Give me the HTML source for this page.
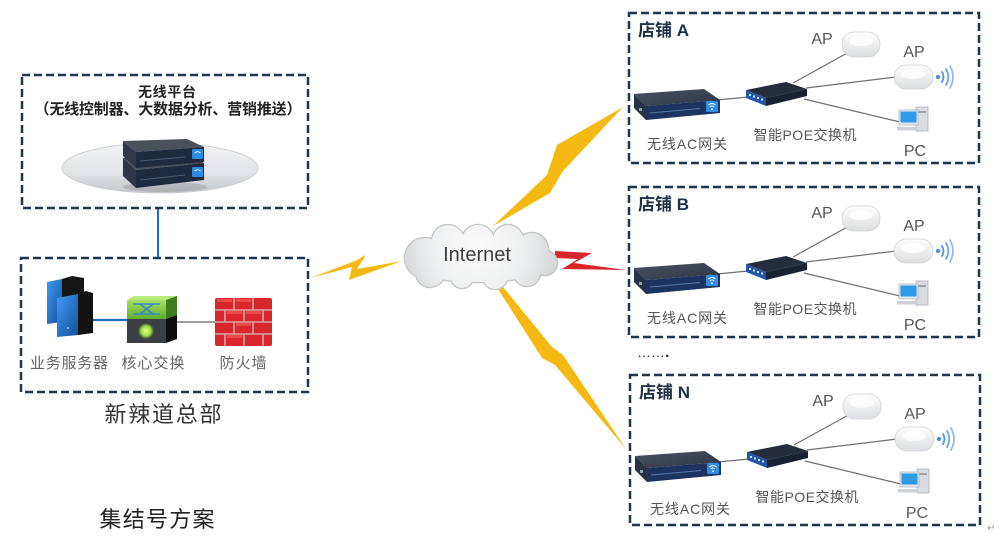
<!DOCTYPE html>
<html><head><meta charset="utf-8">
<style>
html,body{margin:0;padding:0;background:#fff;}
svg{display:block;}
text{font-family:"Liberation Sans","Noto Sans CJK SC",sans-serif;}
</style></head><body>
<svg width="1004" height="542" viewBox="0 0 1004 542" xmlns="http://www.w3.org/2000/svg">
<defs>
  <radialGradient id="cloudG" cx="478" cy="248" r="85" gradientUnits="userSpaceOnUse">
    <stop offset="0" stop-color="#fbfbfb"/>
    <stop offset="0.55" stop-color="#eeeff0"/>
    <stop offset="1" stop-color="#cfd1d4"/>
  </radialGradient>
  <linearGradient id="plat" x1="0" y1="0" x2="0" y2="1">
    <stop offset="0" stop-color="#f3f4f6"/>
    <stop offset="0.6" stop-color="#e2e4e7"/>
    <stop offset="1" stop-color="#c4c7cb"/>
  </linearGradient>
  <linearGradient id="apG" x1="0" y1="0" x2="0" y2="1">
    <stop offset="0" stop-color="#ffffff"/>
    <stop offset="1" stop-color="#dcdde0"/>
  </linearGradient>
  <linearGradient id="srvBlue" x1="0" y1="0" x2="1" y2="1">
    <stop offset="0" stop-color="#3e9bf0"/>
    <stop offset="1" stop-color="#144f9e"/>
  </linearGradient>
  <linearGradient id="greenG" x1="0" y1="0" x2="0" y2="1">
    <stop offset="0" stop-color="#a6e064"/>
    <stop offset="1" stop-color="#5fae2e"/>
  </linearGradient>
  <radialGradient id="glow" cx="0.5" cy="0.5" r="0.5">
    <stop offset="0" stop-color="#e8ff8a"/>
    <stop offset="0.6" stop-color="#9be03c"/>
    <stop offset="1" stop-color="#3b3f44"/>
  </radialGradient>
  <linearGradient id="acTop" x1="0" y1="0" x2="1" y2="1">
    <stop offset="0" stop-color="#4a5263"/>
    <stop offset="1" stop-color="#2c3446"/>
  </linearGradient>

  <g id="store">
    <rect x="629" y="0" width="350" height="150" fill="none" stroke="#1f364f" stroke-width="2.5" stroke-dasharray="8 4"/>
    <g stroke="#6f6f6f" stroke-width="1.2" fill="none">
      <line x1="717" y1="87" x2="748" y2="84"/>
      <line x1="793" y1="70" x2="851" y2="38"/>
      <line x1="806" y1="75" x2="896" y2="64"/>
      <line x1="804" y1="86" x2="900" y2="109"/>
    </g>
    <polygon points="634,81 704,76 720,87 646,93" fill="url(#acTop)"/>
    <polygon points="634,81 646,93 646,107 634,95" fill="#283245"/>
    <polygon points="646,93 720,87 720,100 646,107" fill="#1e3460"/>
    <line x1="650" y1="100" x2="700" y2="95.5" stroke="#5678a8" stroke-width="1"/>
    <rect x="639" y="95" width="3" height="3" fill="#8aa"/>
    <rect x="706" y="88" width="12" height="11" rx="1.5" fill="#2f8de4"/>
    <path d="M708.5,92 q3.5,-3 7,0 M709.8,94 q2.2,-2 4.4,0" stroke="#fff" stroke-width="1" fill="none"/>
    <circle cx="712" cy="96.3" r="0.9" fill="#fff"/>
    <polygon points="746,77 786,69 807,76 766,85" fill="#262d3a"/>
    <polygon points="746,77 766,85 766,93 746,85" fill="#2456a8"/>
    <polygon points="766,85 807,76 807,83 766,93" fill="#1a2231"/>
    <g fill="#cfe0f5">
      <rect x="749" y="81" width="2" height="2"/>
      <rect x="753" y="82.5" width="2" height="2"/>
      <rect x="757" y="84" width="2" height="2"/>
      <rect x="761" y="85.5" width="2" height="2"/>
    </g>
    <rect x="842" y="19" width="38" height="25" rx="12" fill="url(#apG)" stroke="#d2d3d6" stroke-width="0.8"/>
    <ellipse cx="861" cy="28" rx="12" ry="5" fill="#fff" opacity="0.8"/>
    <rect x="894" y="52" width="39" height="24" rx="12" fill="url(#apG)" stroke="#d2d3d6" stroke-width="0.8"/>
    <ellipse cx="913" cy="61" rx="12" ry="5" fill="#fff" opacity="0.8"/>
    <circle cx="938" cy="64" r="2.2" fill="#4a8fdc"/>
    <g fill="none" stroke-linecap="round">
      <path d="M942,59 q3,5 0,10" stroke="#4f95de" stroke-width="1.8"/>
      <path d="M946,56 q4.5,8 0,16" stroke="#6aa6e4" stroke-width="1.8"/>
      <path d="M950,53 q6,11 0,22" stroke="#8ebbea" stroke-width="1.8"/>
    </g>
    <rect x="916" y="94" width="12" height="24" fill="#d9dde2" stroke="#aeb3ba" stroke-width="0.8"/>
    <rect x="918" y="98" width="8" height="2" fill="#9aa3ad"/>
    <rect x="899" y="97" width="19" height="15" fill="#e4e7ea" stroke="#b5b9bf" stroke-width="0.8"/>
    <rect x="900.5" y="98.5" width="16" height="11" fill="#2f9be8"/>
    <rect x="897" y="114" width="20" height="3.5" fill="#cdd1d6"/>
  </g>
</defs>

<rect width="1004" height="542" fill="#ffffff"/>

<!-- Top-left platform box -->
<rect x="22" y="75" width="286" height="133" fill="none" stroke="#1f364f" stroke-width="2.5" stroke-dasharray="8 4"/>
<text x="167" y="97" text-anchor="middle" font-size="14" font-weight="bold" fill="#222" textLength="58" lengthAdjust="spacing">无线平台</text>
<text x="168" y="114" text-anchor="middle" font-size="15" font-weight="bold" fill="#222" textLength="267" lengthAdjust="spacing">（无线控制器、大数据分析、营销推送）</text>
<ellipse cx="160" cy="168" rx="98" ry="25" fill="url(#plat)" stroke="#c8cbcf" stroke-width="0.8"/>
<ellipse cx="165" cy="187" rx="42" ry="5" fill="#000" opacity="0.12"/>
<polygon points="123,158 190,155 204,163 136,170" fill="#4b515b"/>
<polygon points="123,158 136,170 136,188 123,176" fill="#2d3546"/>
<polygon points="136,170 204,163 204,180 136,188" fill="#1f2a3e"/>
<line x1="140" y1="180" x2="185" y2="175" stroke="#47597a" stroke-width="1"/>
<rect x="192" y="167" width="11" height="10" rx="1" fill="#2b8be6"/>
<path d="M194.5,171 q3,-2.5 6,0" stroke="#fff" stroke-width="1" fill="none"/>
<polygon points="123,141 187,139 204,147 136,152" fill="#4b515b"/>
<polygon points="123,141 136,152 136,168 123,156" fill="#30384a"/>
<polygon points="136,152 204,147 204,162 136,168" fill="#1f2a3e"/>
<line x1="140" y1="161" x2="185" y2="157" stroke="#47597a" stroke-width="1"/>
<rect x="192" y="149" width="11" height="10" rx="1" fill="#2b8be6"/>
<path d="M194.5,153 q3,-2.5 6,0" stroke="#fff" stroke-width="1" fill="none"/>

<line x1="158" y1="209" x2="158" y2="258" stroke="#1f6dc2" stroke-width="2"/>

<!-- HQ box -->
<rect x="21" y="258" width="287" height="134" fill="none" stroke="#1f364f" stroke-width="2.5" stroke-dasharray="8 4"/>
<line x1="92" y1="320" x2="128" y2="320" stroke="#1f6dc2" stroke-width="2.2"/>
<line x1="176" y1="322" x2="216" y2="322" stroke="#666" stroke-width="1.2"/>
<polygon points="62,279 72,276 84,278 84,318 62,320" fill="#151515"/>
<polygon points="47,282 62,279 62,322 47,324" fill="url(#srvBlue)"/>
<polygon points="78,294 86,291 93,293 93,333 78,335" fill="#121212"/>
<polygon points="57,298 78,294 78,335 57,337" fill="url(#srvBlue)"/>
<circle cx="68" cy="328" r="1" fill="#8fd0ff"/>
<polygon points="127,300 134,296 177,296 166,300" fill="#b8ea7c"/>
<rect x="127" y="300" width="39" height="19" fill="url(#greenG)"/>
<polygon points="166,300 177,296 177,315 166,319" fill="#3f7d1d"/>
<g stroke="#3b86c6" stroke-width="1.6" fill="none">
  <line x1="133" y1="304" x2="160" y2="304"/>
  <line x1="133" y1="314" x2="160" y2="314"/>
  <line x1="140" y1="304" x2="153" y2="314"/>
  <line x1="153" y1="304" x2="140" y2="314"/>
</g>
<rect x="127" y="319" width="39" height="24" fill="#3b3f44"/>
<polygon points="166,319 177,315 177,339 166,343" fill="#0e0e0e"/>
<circle cx="146" cy="331" r="8" fill="url(#glow)"/>
<rect x="215" y="298" width="57" height="48" rx="2" fill="#d8262a"/>
<g stroke="#d9a7a4" stroke-width="1.6">
  <line x1="215" y1="310" x2="272" y2="310"/>
  <line x1="215" y1="322" x2="272" y2="322"/>
  <line x1="215" y1="334" x2="272" y2="334"/>
  <line x1="234" y1="298" x2="234" y2="310"/>
  <line x1="253" y1="298" x2="253" y2="310"/>
  <line x1="225" y1="310" x2="225" y2="322"/>
  <line x1="244" y1="310" x2="244" y2="322"/>
  <line x1="263" y1="310" x2="263" y2="322"/>
  <line x1="234" y1="322" x2="234" y2="334"/>
  <line x1="253" y1="322" x2="253" y2="334"/>
  <line x1="225" y1="334" x2="225" y2="346"/>
  <line x1="244" y1="334" x2="244" y2="346"/>
  <line x1="263" y1="334" x2="263" y2="346"/>
</g>
<g fill="#f25a55" opacity="0.7">
  <rect x="217" y="299" width="15" height="3"/>
  <rect x="236" y="299" width="15" height="3"/>
  <rect x="227" y="311" width="15" height="3"/>
  <rect x="246" y="311" width="15" height="3"/>
  <rect x="236" y="323" width="15" height="3"/>
  <rect x="227" y="335" width="15" height="3"/>
</g>
<text x="69" y="368" text-anchor="middle" font-size="15" fill="#666" textLength="78" lengthAdjust="spacing">业务服务器</text>
<text x="153" y="368" text-anchor="middle" font-size="15" fill="#666" textLength="63" lengthAdjust="spacing">核心交换</text>
<text x="243" y="368" text-anchor="middle" font-size="15" fill="#666" textLength="47" lengthAdjust="spacing">防火墙</text>
<text x="163" y="422" text-anchor="middle" font-size="22" fill="#333" textLength="117" lengthAdjust="spacing">新辣道总部</text>

<text x="157" y="527" text-anchor="middle" font-size="22" fill="#222" textLength="115" lengthAdjust="spacing">集结号方案</text>

<!-- Lightning bolts -->
<polygon points="310,278 355,261 366,255 357,269 402,261 349,280 352,267" fill="#f5b914"/>
<polygon points="623,107 557,145 547,175 493,226 550,193 563,171" fill="#f5b914"/>
<polygon points="555,251 592,253 574,263 626,270 562,269 578,259 555,258" fill="#d8262b"/>
<polygon points="498,289 503,287 552,347 563,355 626,449 555,365 542,358" fill="#f5b914"/>

<!-- Cloud -->
<g fill="#c3c5c9" stroke="#c3c5c9" stroke-width="2.5">
  <ellipse cx="478" cy="262" rx="72" ry="20"/>
  <circle cx="425" cy="258" r="20"/>
  <circle cx="448" cy="241" r="16"/>
  <circle cx="478" cy="241" r="16"/>
  <circle cx="508" cy="240" r="15"/>
  <circle cx="532" cy="249" r="16"/>
  <circle cx="545" cy="263" r="12"/>
  <circle cx="430" cy="273" r="14"/>
  <circle cx="462" cy="277" r="11"/>
  <circle cx="495" cy="277" r="12"/>
  <circle cx="527" cy="273" r="13"/>
</g>
<g fill="url(#cloudG)">
  <ellipse cx="478" cy="262" rx="72" ry="20"/>
  <circle cx="425" cy="258" r="20"/>
  <circle cx="448" cy="241" r="16"/>
  <circle cx="478" cy="241" r="16"/>
  <circle cx="508" cy="240" r="15"/>
  <circle cx="532" cy="249" r="16"/>
  <circle cx="545" cy="263" r="12"/>
  <circle cx="430" cy="273" r="14"/>
  <circle cx="462" cy="277" r="11"/>
  <circle cx="495" cy="277" r="12"/>
  <circle cx="527" cy="273" r="13"/>
</g>
<text x="477" y="261" text-anchor="middle" font-size="20" fill="#3d3d3d">Internet</text>

<!-- Stores -->
<use href="#store" transform="translate(0,13)"/>
<use href="#store" transform="translate(0,187)"/>
<use href="#store" transform="translate(1,375)"/>

<text x="638" y="36" font-size="17" font-weight="bold" fill="#1d3149">店铺 A</text>
<text x="822" y="44" text-anchor="middle" font-size="16" fill="#555">AP</text>
<text x="914" y="57" text-anchor="middle" font-size="16" fill="#555">AP</text>
<text x="687" y="149" text-anchor="middle" font-size="14" fill="#555" textLength="80" lengthAdjust="spacing">无线AC网关</text>
<text x="805" y="140" text-anchor="middle" font-size="14" fill="#555" textLength="103" lengthAdjust="spacing">智能POE交换机</text>
<text x="915" y="156" text-anchor="middle" font-size="16" fill="#555">PC</text>

<text x="638" y="210" font-size="17" font-weight="bold" fill="#1d3149">店铺 B</text>
<text x="822" y="218" text-anchor="middle" font-size="16" fill="#555">AP</text>
<text x="914" y="231" text-anchor="middle" font-size="16" fill="#555">AP</text>
<text x="687" y="323" text-anchor="middle" font-size="14" fill="#555" textLength="80" lengthAdjust="spacing">无线AC网关</text>
<text x="805" y="314" text-anchor="middle" font-size="14" fill="#555" textLength="103" lengthAdjust="spacing">智能POE交换机</text>
<text x="915" y="330" text-anchor="middle" font-size="16" fill="#555">PC</text>

<text x="637" y="357" font-size="14" fill="#333">……<tspan font-size="16" font-weight="bold">.</tspan></text>

<text x="639" y="398" font-size="17" font-weight="bold" fill="#1d3149">店铺 N</text>
<text x="823" y="406" text-anchor="middle" font-size="16" fill="#555">AP</text>
<text x="915" y="419" text-anchor="middle" font-size="16" fill="#555">AP</text>
<text x="690" y="514" text-anchor="middle" font-size="14" fill="#555" textLength="80" lengthAdjust="spacing">无线AC网关</text>
<text x="807" y="502" text-anchor="middle" font-size="14" fill="#555" textLength="103" lengthAdjust="spacing">智能POE交换机</text>
<text x="917" y="518" text-anchor="middle" font-size="16" fill="#555">PC</text>

<text x="987" y="531" font-size="10" fill="#999">↵</text>
</svg>
</body></html>
